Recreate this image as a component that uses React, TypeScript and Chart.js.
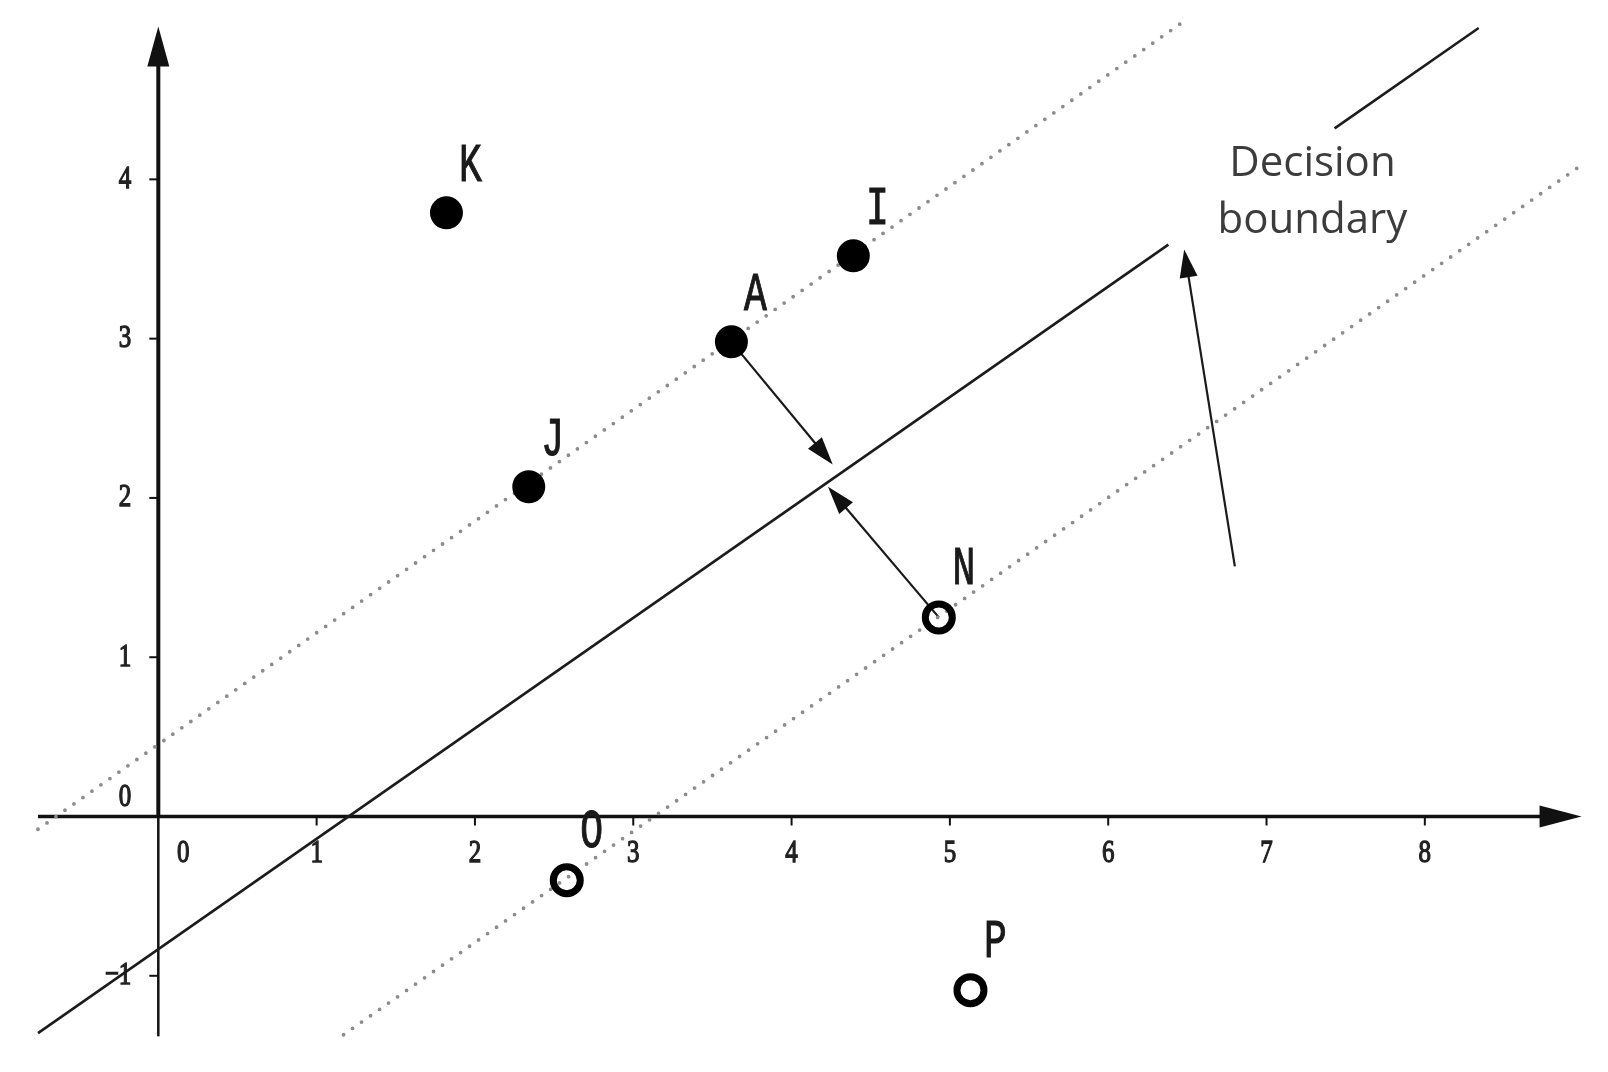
import React, { useEffect, useRef } from "react";
import { Chart, registerables } from "chart.js";

Chart.register(...registerables);

// ---- data ----
const positiveNames = ["K", "I", "A", "J"];
const positiveX = [1.82, 4.39, 3.62, 2.34];
const positiveY = [3.79, 3.52, 2.98, 2.07];

const negativeNames = ["N", "O", "P"];
const negativeX = [4.93, 2.58, 5.13];
const negativeY = [1.25, -0.4, -1.09];

const boundaryMainX = [-0.76, 6.38];
const boundaryMainY = [-1.36, 3.59];
const boundaryTopX = [7.43, 8.34];
const boundaryTopY = [4.32, 4.95];

const upperMarginX = [-0.76, 6.46];
const upperMarginY = [-0.08, 4.98];
const lowerMarginX = [1.17, 8.99];
const lowerMarginY = [-1.37, 4.09];

const xTickValues = [0, 1, 2, 3, 4, 5, 6, 7, 8];
const xTickLabels = ["0", "1", "2", "3", "4", "5", "6", "7", "8"];
const yTickValues = [-1, 0, 1, 2, 3, 4];
const yTickLabels = ["\u22121", "0", "1", "2", "3", "4"];

const xAxisExtent = [-0.76, 8.99];
const yAxisExtent = [-1.38, 4.96];

const arrowFromX = [3.62, 4.93, 6.8];
const arrowFromY = [2.98, 1.25, 1.57];
const arrowToX = [4.26, 4.23, 6.48];
const arrowToY = [2.21, 2.07, 3.56];

const annotationLines = ["Decision", "boundary"];
const annotationX = 7.29;
const annotationY = 4.02;

// view window
const X_MIN = -1.0;
const X_MAX = 9.157;
const Y_MIN = -1.604;
const Y_MAX = 5.126;

function stretchedText(
  ctx: CanvasRenderingContext2D,
  text: string,
  x: number,
  y: number,
  font: string,
  sy: number,
  align: CanvasTextAlign = "center",
  stroke = 0
) {
  ctx.save();
  ctx.translate(x, y);
  ctx.scale(1, sy);
  ctx.font = font;
  ctx.textAlign = align;
  ctx.textBaseline = "middle";
  ctx.fillText(text, 0, 0);
  if (stroke > 0) {
    ctx.lineWidth = stroke;
    ctx.strokeStyle = ctx.fillStyle as string;
    ctx.strokeText(text, 0, 0);
  }
  ctx.restore();
}

function arrowHead(
  ctx: CanvasRenderingContext2D,
  fx: number,
  fy: number,
  tx: number,
  ty: number,
  len: number,
  half: number
) {
  const a = Math.atan2(ty - fy, tx - fx);
  const bx = tx - len * Math.cos(a);
  const by = ty - len * Math.sin(a);
  ctx.beginPath();
  ctx.moveTo(tx, ty);
  ctx.lineTo(bx + half * Math.sin(a), by - half * Math.cos(a));
  ctx.lineTo(bx - half * Math.sin(a), by + half * Math.cos(a));
  ctx.closePath();
  ctx.fill();
}

const axesPlugin = {
  id: "crossAxes",
  beforeDatasetsDraw(chart: any) {
    const ctx: CanvasRenderingContext2D = chart.ctx;
    const xs = chart.scales.x;
    const ys = chart.scales.y;
    const px = (v: number) => xs.getPixelForValue(v);
    const py = (v: number) => ys.getPixelForValue(v);
    ctx.save();
    ctx.strokeStyle = "#111";
    ctx.fillStyle = "#111";
    ctx.lineCap = "butt";

    // x axis
    const ax0 = px(xAxisExtent[0]);
    const ax1 = px(xAxisExtent[1]);
    const y0 = py(0);
    ctx.lineWidth = 3.5;
    ctx.beginPath();
    ctx.moveTo(ax0, y0);
    ctx.lineTo(ax1 - 30, y0);
    ctx.stroke();
    arrowHead(ctx, ax0, y0, ax1, y0, 42, 11);

    // y axis
    const x0 = px(0);
    const ay0 = py(yAxisExtent[0]);
    const ay1 = py(yAxisExtent[1]);
    ctx.lineWidth = 2.5;
    ctx.beginPath();
    ctx.moveTo(x0, ay0);
    ctx.lineTo(x0, y0);
    ctx.stroke();
    ctx.lineWidth = 4;
    ctx.beginPath();
    ctx.moveTo(x0, y0);
    ctx.lineTo(x0, ay1 + 30);
    ctx.stroke();
    arrowHead(ctx, x0, y0, x0, ay1, 40, 11);

    // ticks
    ctx.lineWidth = 2;
    xTickValues.forEach((v) => {
      if (v === 0) return;
      ctx.beginPath();
      ctx.moveTo(px(v), y0);
      ctx.lineTo(px(v), y0 + 9);
      ctx.stroke();
    });
    yTickValues.forEach((v) => {
      if (v === 0) return;
      ctx.beginPath();
      ctx.moveTo(x0 - 9, py(v));
      ctx.lineTo(x0, py(v));
      ctx.stroke();
    });

    // tick labels
    ctx.fillStyle = "#222";
    const tickFont = "25px 'Liberation Serif', 'DejaVu Serif', serif";
    xTickValues.forEach((v, i) => {
      const dx = v === 0 ? 25 : 0;
      stretchedText(ctx, xTickLabels[i], px(v) + dx, y0 + 37, tickFont, 1.3, "center", 1.0);
    });
    yTickValues.forEach((v, i) => {
      const dy = v === 0 ? -19 : 0;
      stretchedText(ctx, yTickLabels[i], x0 - 27, py(v) + dy, tickFont, 1.3, "right", 1.0);
    });

    // arrows
    ctx.strokeStyle = "#1a1a1a";
    ctx.fillStyle = "#111";
    ctx.lineWidth = 2.2;
    arrowFromX.forEach((fxv, i) => {
      const fx = px(fxv);
      const fy = py(arrowFromY[i]);
      const tx = px(arrowToX[i]);
      const ty = py(arrowToY[i]);
      const a = Math.atan2(ty - fy, tx - fx);
      ctx.beginPath();
      ctx.moveTo(fx, fy);
      ctx.lineTo(tx - 20 * Math.cos(a), ty - 20 * Math.sin(a));
      ctx.stroke();
      arrowHead(ctx, fx, fy, tx, ty, 28, 9);
    });
    ctx.restore();
  },
  afterDatasetsDraw(chart: any) {
    const ctx: CanvasRenderingContext2D = chart.ctx;
    const xs = chart.scales.x;
    const ys = chart.scales.y;
    const px = (v: number) => xs.getPixelForValue(v);
    const py = (v: number) => ys.getPixelForValue(v);
    ctx.save();
    ctx.fillStyle = "#1a1a1a";
    const labelFont = "38px 'Liberation Mono', 'DejaVu Sans Mono', monospace";
    positiveNames.forEach((n, i) => {
      stretchedText(ctx, n, px(positiveX[i]) + 24, py(positiveY[i]) - 46, labelFont, 1.4, "center", 0.8);
    });
    negativeNames.forEach((n, i) => {
      stretchedText(ctx, n, px(negativeX[i]) + 25, py(negativeY[i]) - 47, labelFont, 1.4, "center", 0.8);
    });

    // annotation text
    ctx.fillStyle = "#3c3c3c";
    ctx.font = "42px 'Open Sans', 'Noto Sans', sans-serif";
    ctx.textAlign = "center";
    ctx.textBaseline = "alphabetic";
    const ax = px(annotationX);
    const ay = py(annotationY);
    annotationLines.forEach((t, i) => {
      ctx.fillText(t, ax, ay + i * 57);
    });
    ctx.restore();
  },
};

function pairs(xs: number[], ys: number[]) {
  return xs.map((x, i) => ({ x, y: ys[i] }));
}

export default function App() {
  const ref = useRef<HTMLCanvasElement>(null);
  useEffect(() => {
    const canvas = ref.current;
    if (!canvas) return;
    const solid = {
      showLine: true,
      pointRadius: 0,
      borderColor: "#1c1c1c",
      borderWidth: 2.6,
      fill: false,
    };
    const dotted = {
      showLine: true,
      pointRadius: 0,
      borderColor: "#8c8c8c",
      borderWidth: 3.8,
      borderDash: [0, 11],
      borderCapStyle: "round",
      fill: false,
    };
    const chart = new Chart(canvas, {
      type: "scatter",
      data: {
        datasets: [
          {
            label: "positive",
            data: pairs(positiveX, positiveY),
            pointRadius: 16.5,
            pointBackgroundColor: "#000",
            pointBorderWidth: 0,
            clip: false,
            order: 0,
          } as any,
          {
            label: "negative",
            data: pairs(negativeX, negativeY),
            pointRadius: 13.5,
            pointBackgroundColor: "rgba(0,0,0,0)",
            pointBorderColor: "#000",
            pointBorderWidth: 7,
            clip: false,
            order: 1,
          } as any,
          { label: "boundary", data: pairs(boundaryMainX, boundaryMainY), ...solid, order: 2 } as any,
          { label: "boundary2", data: pairs(boundaryTopX, boundaryTopY), ...solid, order: 3 } as any,
          { label: "upper margin", data: pairs(upperMarginX, upperMarginY), ...dotted, order: 4 } as any,
          { label: "lower margin", data: pairs(lowerMarginX, lowerMarginY), ...dotted, order: 5 } as any,
        ],
      },
      options: {
        animation: false,
        responsive: true,
        maintainAspectRatio: false,
        events: [],
        layout: { padding: 0, autoPadding: false },
        plugins: { legend: { display: false }, tooltip: { enabled: false } },
        scales: {
          x: { type: "linear", display: false, min: X_MIN, max: X_MAX },
          y: { type: "linear", display: false, min: Y_MIN, max: Y_MAX },
        },
      } as any,
      plugins: [axesPlugin],
    });
    return () => chart.destroy();
  }, []);
  return (
    <div
      style={{
        position: "fixed",
        left: 0,
        top: 0,
        width: 1608,
        height: 1072,
        background: "#fff",
      }}
    >
      <canvas ref={ref} />
    </div>
  );
}
